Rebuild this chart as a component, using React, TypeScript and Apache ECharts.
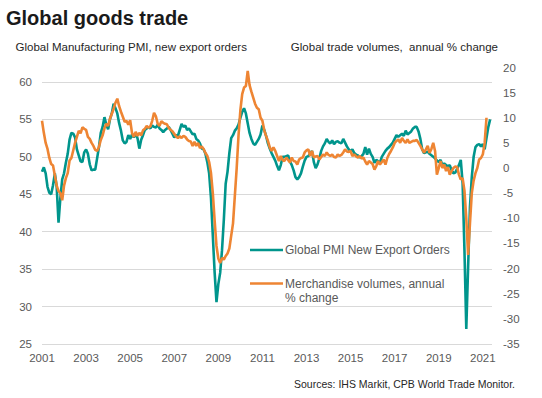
import React, { useEffect, useRef } from "react";
import * as echarts from "echarts";

// Monthly data, Jan 2001 onwards
const pmiExportOrders: number[] = [
  48.0, 48.6, 47.8, 46.0, 45.2, 45.0, 46.2, 47.8, 46.0, 41.2, 44.5, 47.0,
  47.8, 49.2, 50.4, 52.3, 53.2, 53.1, 52.6, 51.0, 50.2, 49.4, 49.3, 50.6,
  51.0, 50.4, 49.0, 48.2, 48.3, 48.3, 49.8, 51.3, 53.2, 54.0, 55.3, 54.3,
  53.7, 55.0, 55.8, 57.1, 56.5, 55.8, 54.5, 53.5, 52.2, 51.8, 52.0, 52.9,
  52.4, 53.0, 52.6, 53.1, 52.5, 51.1, 52.3, 52.9, 53.6, 53.8, 54.0, 53.8,
  54.2, 54.0, 53.9, 54.3, 53.8, 53.6, 53.3, 53.6, 53.8, 54.0, 53.6, 53.1,
  52.6, 52.9, 52.8, 53.6, 54.4, 54.0, 54.2, 53.6, 53.8, 53.4, 53.0, 53.1,
  52.4, 52.2, 51.8, 51.1, 51.0, 50.4, 49.3, 47.8, 44.5, 39.5, 34.5, 30.6,
  33.0, 34.5, 37.5, 41.6, 46.4, 48.0, 50.5, 52.5, 52.9, 53.5, 53.8, 54.3,
  55.2, 56.0, 56.5, 55.8, 54.5, 53.2, 52.4, 51.8, 51.6, 52.0, 52.4, 53.0,
  54.2, 53.6, 52.8, 51.8, 51.1, 50.5, 50.0, 49.5, 48.8, 48.2, 48.9, 50.0,
  50.0, 50.1, 50.2, 49.4, 48.9, 48.2, 47.3, 47.0, 47.3, 47.8, 48.7, 49.5,
  50.0, 50.1, 50.4, 50.8, 49.3, 48.5, 49.0, 49.8, 50.8, 51.4, 51.8, 52.4,
  52.0, 51.8, 52.2, 51.7, 52.0, 52.1, 51.9, 51.8, 52.4, 51.9, 51.4, 51.0,
  50.7, 51.0, 50.5, 50.3, 50.2, 49.9, 50.1, 50.4, 51.3, 50.3, 51.1, 50.4,
  50.0, 49.2, 49.6, 49.4, 49.2, 50.0, 50.4, 50.8, 51.1, 51.3, 51.6, 51.9,
  52.4, 52.9, 52.7, 52.9, 53.1, 52.8, 53.5, 53.0, 53.2, 53.4, 53.8, 54.0,
  54.0, 53.4, 52.4, 51.0, 50.5, 50.6, 50.7, 50.4, 50.2, 50.0, 49.8, 49.5,
  49.3, 49.6, 48.9, 49.1, 48.9, 48.7, 48.9, 48.2, 47.8, 47.9, 48.4, 48.9,
  49.6, 46.5, 37.6, 27.0, 35.3, 43.3, 47.3, 50.0, 51.3, 51.6, 51.7, 51.4,
  51.7, 51.0, 52.5, 54.0, 55.0,
];

const merchandiseVolumes: number[] = [
  9.4, 7.0, 5.0, 3.8, 2.0, 0.8, 0.5, -1.5, -3.5, -4.6, -5.0, -6.4,
  -3.5, -2.0, -1.0, 1.5, 2.0, 3.5, 5.0, 6.2, 7.4, 6.9, 8.1, 7.8,
  7.6, 6.2, 5.8, 5.0, 4.4, 3.6, 3.4, 4.2, 5.6, 6.5, 7.9, 8.8,
  8.4, 9.8, 10.8, 11.8, 13.0, 13.8, 12.3, 11.2, 10.2, 9.2, 9.4, 8.6,
  9.5, 7.0, 6.2, 7.2, 6.4, 7.0, 6.5, 7.5, 7.8, 8.4, 8.0, 8.3,
  9.4, 11.0, 10.3, 8.8, 8.4, 9.3, 9.0, 8.8, 8.7, 8.0, 7.6, 7.3,
  6.8, 6.3, 6.0, 6.3, 6.0, 6.4, 6.2, 5.7, 5.4, 5.3, 4.4, 5.2,
  4.4, 5.0, 4.0, 4.3, 3.8, 3.0, 2.4, 1.2, -1.0, -5.0, -10.5, -15.5,
  -18.0, -18.9, -17.9, -18.2, -17.5, -17.0, -16.0, -13.5, -11.0, -5.5, 0.0, 6.5,
  11.5, 14.7, 16.0, 16.3, 19.3, 16.5, 15.2, 14.0, 12.8, 12.0, 11.7, 10.0,
  9.4, 7.5, 6.4, 5.4, 4.1, 3.4, 4.1, 3.4, 2.4, 1.4, 2.4, 1.6,
  1.4, 2.1, 1.6, 1.1, 2.1, 1.4, 1.3, 0.7, 1.7, 2.0, 2.1, 3.1,
  3.5, 3.7, 2.4, 3.4, 2.1, 2.3, 2.4, 1.7, 2.2, 2.7, 2.4, 3.1,
  2.6, 2.4, 2.7, 2.2, 2.1, 2.7, 2.4, 2.6, 3.1, 3.7, 3.3, 3.2,
  3.4, 2.4, 2.7, 2.3, 2.1, 2.4, 1.9, 2.1, 1.3, 0.7, 1.4, 1.1,
  0.8, -0.3, 0.4, 1.4, 0.7, 1.2, 1.7, 0.7, 2.0, 2.8, 3.4, 4.1,
  5.0, 5.4, 5.7, 5.0, 6.0, 5.4, 5.0, 5.7, 5.0, 5.2, 5.4, 5.4,
  5.6, 5.0, 4.4, 3.7, 3.1, 3.7, 4.4, 3.0, 3.8, 5.0, 3.4, -1.3,
  0.0, 1.4, 0.0, 0.7, -0.6, 0.2, -1.3, -0.6, 0.0, 0.3, 0.2, -1.3,
  -2.3, -2.0, -4.5, -10.0, -17.3, -11.0, -5.0, -2.5, -1.0, 0.0, 1.7, 2.0,
  2.7, 5.0, 10.0,
];

const startYear = 2001;
const leftAxisRange = [25, 60];
const rightAxisRange = [-35, 20];
const seriesNames = ["Global PMI New Export Orders", "Merchandise volumes, annual % change"];

const FONT = "'Liberation Sans', Arial, sans-serif";
const GREEN = "#00958c";
const ORANGE = "#ee8533";

export default function App() {
  const ref = useRef<HTMLDivElement>(null);
  useEffect(() => {
    if (!ref.current) return;
    const chart = echarts.init(ref.current, undefined, { renderer: "svg" });
    const monthsMax = 245;
    const option: any = {
      animation: false,
      backgroundColor: "#ffffff",
      textStyle: { fontFamily: FONT },
      grid: [
        { left: 42, right: 50, top: 82, bottom: 54 },
        { left: 42, right: 50, top: 67.5, bottom: 54 },
      ],
      xAxis: [
        {
          type: "value",
          gridIndex: 0,
          min: 0,
          max: monthsMax,
          interval: 24,
          axisLine: { show: false },
          axisTick: { show: false },
          splitLine: { show: false },
          axisLabel: {
            color: "#595959",
            fontSize: 11.5,
            fontFamily: FONT,
            margin: 8,
            formatter: (v: number) => (v % 24 === 0 ? String(startYear + v / 12) : ""),
          },
        },
        {
          type: "value",
          gridIndex: 1,
          min: 0,
          max: monthsMax,
          show: false,
        },
      ],
      yAxis: [
        {
          type: "value",
          gridIndex: 0,
          min: leftAxisRange[0],
          max: leftAxisRange[1],
          interval: 5,
          axisLine: { show: false },
          axisTick: { show: false },
          splitLine: { show: true, lineStyle: { color: "#d9d9d9", width: 1 } },
          axisLabel: { color: "#595959", fontSize: 11.5, fontFamily: FONT, margin: 10 },
        },
        {
          type: "value",
          gridIndex: 1,
          position: "right",
          min: rightAxisRange[0],
          max: rightAxisRange[1],
          interval: 5,
          axisLine: { show: false },
          axisTick: { show: false },
          splitLine: { show: false },
          axisLabel: { color: "#595959", fontSize: 11.5, fontFamily: FONT, margin: 11, align: "left" },
        },
      ],
      series: [
        {
          name: seriesNames[0],
          type: "line",
          xAxisIndex: 0,
          yAxisIndex: 0,
          showSymbol: false,
          symbol: "none",
          lineStyle: { color: GREEN, width: 2.6 },
          data: pmiExportOrders.map((v, i) => [i, v]),
          z: 2,
        },
        {
          name: seriesNames[1],
          type: "line",
          xAxisIndex: 1,
          yAxisIndex: 1,
          showSymbol: false,
          symbol: "none",
          lineStyle: { color: ORANGE, width: 2.6 },
          data: merchandiseVolumes.map((v, i) => [i, v]),
          z: 3,
        },
      ],
      graphic: [
        {
          type: "text",
          left: 6,
          top: 8,
          style: { text: "Global goods trade", font: `bold 20px ${FONT}`, fill: "#1a1a1a" },
        },
        {
          type: "text",
          x: 15.5,
          y: 47,
          style: {
            text: "Global Manufacturing PMI, new export orders",
            font: `11.5px ${FONT}`,
            fill: "#262626",
            textVerticalAlign: "middle",
            verticalAlign: "middle",
          },
        },
        {
          type: "text",
          x: 498,
          y: 47,
          style: {
            text: "Global trade volumes,  annual % change",
            font: `11.5px ${FONT}`,
            fill: "#262626",
            align: "right",
            textAlign: "right",
            verticalAlign: "middle",
            textVerticalAlign: "middle",
          },
        },
        {
          type: "line",
          shape: { x1: 250, y1: 250, x2: 283, y2: 250 },
          style: { stroke: GREEN, lineWidth: 2.6 },
        },
        {
          type: "text",
          x: 285,
          y: 250,
          style: {
            text: seriesNames[0],
            font: `12px ${FONT}`,
            fill: "#595959",
            verticalAlign: "middle",
            textVerticalAlign: "middle",
          },
        },
        {
          type: "line",
          shape: { x1: 250, y1: 283.5, x2: 283, y2: 283.5 },
          style: { stroke: ORANGE, lineWidth: 2.6 },
        },
        {
          type: "text",
          x: 285,
          y: 283.5,
          style: {
            text: "Merchandise volumes, annual",
            font: `12px ${FONT}`,
            fill: "#595959",
            verticalAlign: "middle",
            textVerticalAlign: "middle",
          },
        },
        {
          type: "text",
          x: 285,
          y: 298,
          style: {
            text: "% change",
            font: `12px ${FONT}`,
            fill: "#595959",
            verticalAlign: "middle",
            textVerticalAlign: "middle",
          },
        },
        {
          type: "text",
          x: 515,
          y: 384,
          style: {
            text: "Sources: IHS Markit, CPB World Trade Monitor.",
            font: `10.5px ${FONT}`,
            fill: "#262626",
            align: "right",
            textAlign: "right",
            verticalAlign: "middle",
            textVerticalAlign: "middle",
          },
        },
      ],
    };
    chart.setOption(option);
    return () => chart.dispose();
  }, []);
  return (
    <div
      ref={ref}
      style={{ position: "fixed", left: 0, top: 0, width: 542, height: 398, background: "#fff" }}
    />
  );
}
